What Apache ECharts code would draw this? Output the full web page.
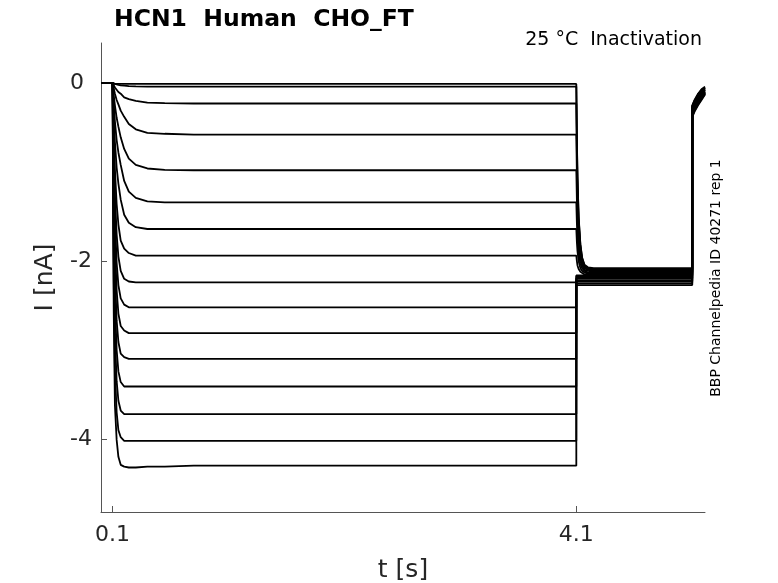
<!DOCTYPE html>
<html>
<head>
<meta charset="utf-8">
<script src="https://cdn.jsdelivr.net/npm/echarts@6/dist/echarts.min.js"></script>
<style>html,body{margin:0;padding:0;background:#fff}#c{width:778px;height:583px}</style>
</head>
<body>
<div id="c"></div>
<script>
// Holding period (s) – all traces at 0 nA
const holdTime = [0, 0.1];
// Activation (prepulse) segment times (s)
const actTime = [0.105, 0.11, 0.12, 0.135, 0.15, 0.17, 0.2, 0.24, 0.3, 0.4, 0.55, 0.8, 1.3, 4.1];
// Currents (nA) during prepulse, one row per trace
const actI = [
  [-0.01,-0.01,-0.01,-0.01,-0.01,-0.01,-0.01,-0.01,-0.01,-0.01,-0.01,-0.01,-0.01,-0.01],
  [-0.003,-0.006,-0.01,-0.015,-0.02,-0.025,-0.03,-0.034,-0.037,-0.04,-0.04,-0.04,-0.04,-0.04],
  [-0.01,-0.02,-0.05,-0.07,-0.10,-0.12,-0.16,-0.18,-0.20,-0.22,-0.225,-0.23,-0.23,-0.23],
  [-0.03,-0.06,-0.12,-0.19,-0.24,-0.31,-0.38,-0.46,-0.52,-0.56,-0.57,-0.58,-0.58,-0.58],
  [-0.07,-0.14,-0.25,-0.39,-0.49,-0.61,-0.74,-0.85,-0.92,-0.96,-0.975,-0.98,-0.98,-0.98],
  [-0.13,-0.24,-0.43,-0.64,-0.78,-0.92,-1.10,-1.22,-1.29,-1.33,-1.34,-1.34,-1.34,-1.34],
  [-0.20,-0.36,-0.66,-0.95,-1.13,-1.31,-1.48,-1.57,-1.62,-1.64,-1.64,-1.64,-1.64,-1.64],
  [-0.29,-0.54,-0.97,-1.36,-1.59,-1.77,-1.86,-1.91,-1.94,-1.94,-1.94,-1.94,-1.94,-1.94],
  [-0.40,-0.74,-1.25,-1.70,-1.95,-2.11,-2.20,-2.23,-2.24,-2.24,-2.24,-2.24,-2.24,-2.24],
  [-0.50,-0.93,-1.51,-2.02,-2.27,-2.42,-2.49,-2.52,-2.52,-2.52,-2.52,-2.52,-2.52,-2.52],
  [-0.62,-1.12,-1.80,-2.33,-2.59,-2.73,-2.78,-2.81,-2.81,-2.81,-2.81,-2.81,-2.81,-2.81],
  [-0.78,-1.36,-2.11,-2.67,-2.91,-3.04,-3.08,-3.10,-3.10,-3.10,-3.10,-3.10,-3.10,-3.10],
  [-0.95,-1.64,-2.46,-3.00,-3.24,-3.36,-3.41,-3.41,-3.41,-3.41,-3.41,-3.41,-3.41,-3.41],
  [-1.12,-1.93,-2.83,-3.35,-3.57,-3.68,-3.72,-3.72,-3.72,-3.72,-3.72,-3.72,-3.72,-3.72],
  [-1.33,-2.25,-3.22,-3.70,-3.90,-3.98,-4.02,-4.02,-4.02,-4.02,-4.02,-4.02,-4.02,-4.02],
  [-1.55,-2.59,-3.62,-4.01,-4.20,-4.29,-4.31,-4.32,-4.32,-4.31,-4.31,-4.30,-4.30,-4.30]
];
// Test pulse segment times (s)
const testTime = [4.1005, 4.105, 4.11, 4.12, 4.135, 4.15, 4.17, 4.2, 4.25, 4.35, 5.1];
const testI = [
  [-0.07,-0.63,-1.05,-1.50,-1.81,-1.96,-2.04,-2.07,-2.08,-2.08,-2.08],
  [-0.10,-0.66,-1.07,-1.52,-1.82,-1.97,-2.05,-2.08,-2.09,-2.09,-2.09],
  [-0.29,-0.79,-1.17,-1.58,-1.86,-1.99,-2.06,-2.09,-2.10,-2.10,-2.10],
  [-0.63,-1.04,-1.35,-1.68,-1.91,-2.02,-2.08,-2.10,-2.11,-2.11,-2.11],
  [-1.01,-1.32,-1.55,-1.80,-1.97,-2.05,-2.10,-2.11,-2.12,-2.12,-2.12],
  [-1.36,-1.58,-1.74,-1.91,-2.03,-2.08,-2.11,-2.13,-2.13,-2.13,-2.13],
  [-1.66,-1.79,-1.89,-2.00,-2.08,-2.11,-2.13,-2.14,-2.14,-2.14,-2.14],
  [-1.95,-2.00,-2.05,-2.09,-2.12,-2.14,-2.15,-2.15,-2.15,-2.15,-2.15],
  [-2.16,-2.16,-2.16,-2.16,-2.16,-2.16,-2.16,-2.16,-2.16,-2.16,-2.16],
  [-2.17,-2.17,-2.17,-2.17,-2.17,-2.17,-2.17,-2.17,-2.17,-2.17,-2.17],
  [-2.19,-2.19,-2.19,-2.19,-2.19,-2.19,-2.19,-2.19,-2.19,-2.19,-2.19],
  [-2.20,-2.20,-2.20,-2.20,-2.20,-2.20,-2.20,-2.20,-2.20,-2.20,-2.20],
  [-2.22,-2.22,-2.22,-2.22,-2.22,-2.22,-2.22,-2.22,-2.22,-2.22,-2.22],
  [-2.23,-2.23,-2.23,-2.23,-2.23,-2.23,-2.23,-2.23,-2.23,-2.23,-2.23],
  [-2.25,-2.25,-2.25,-2.25,-2.25,-2.25,-2.25,-2.25,-2.25,-2.25,-2.25],
  [-2.27,-2.27,-2.27,-2.27,-2.27,-2.27,-2.27,-2.27,-2.27,-2.27,-2.27]
];
// Tail segment times (s)
const tailTime = [5.1005, 5.12, 5.15, 5.18, 5.21];
const tailI = [
  [-0.25,-0.19,-0.12,-0.07,-0.04],
  [-0.26,-0.20,-0.13,-0.08,-0.05],
  [-0.26,-0.20,-0.13,-0.08,-0.05],
  [-0.27,-0.21,-0.14,-0.09,-0.06],
  [-0.28,-0.22,-0.15,-0.10,-0.06],
  [-0.29,-0.23,-0.16,-0.11,-0.07],
  [-0.30,-0.24,-0.17,-0.12,-0.08],
  [-0.31,-0.25,-0.18,-0.12,-0.08],
  [-0.32,-0.26,-0.19,-0.13,-0.09],
  [-0.33,-0.27,-0.20,-0.14,-0.10],
  [-0.34,-0.28,-0.21,-0.15,-0.10],
  [-0.35,-0.29,-0.22,-0.16,-0.11],
  [-0.36,-0.30,-0.23,-0.17,-0.11],
  [-0.36,-0.30,-0.23,-0.17,-0.12],
  [-0.37,-0.31,-0.24,-0.18,-0.12],
  [-0.38,-0.32,-0.25,-0.19,-0.13]
];
const xTicks = [0.1, 4.1];
const yTicks = [-4, -2, 0];

const FONT = 'DejaVu Sans';
const series = actI.map((row, i) => {
  const data = [];
  holdTime.forEach(t => data.push([t, 0]));
  actTime.forEach((t, j) => data.push([t, row[j]]));
  testTime.forEach((t, j) => data.push([t, testI[i][j]]));
  tailTime.forEach((t, j) => data.push([t, tailI[i][j]]));
  return {
    type: 'line', data, showSymbol: false, symbol: 'none',
    lineStyle: { color: '#000', width: 1.8 }, silent: true, animation: false
  };
});

const chart = echarts.init(document.getElementById('c'), null, { renderer: 'canvas' });
chart.setOption({
  animation: false,
  backgroundColor: '#fff',
  grid: { left: 101, top: 43, width: 604, height: 469, containLabel: false, outerBoundsMode: 'none' },
  xAxis: {
    type: 'value', min: 0, max: 5.21,
    axisLine: { show: true, onZero: false, lineStyle: { color: '#555', width: 1 } },
    axisTick: { show: true, inside: true, length: 6, customValues: xTicks, lineStyle: { color: '#555' } },
    axisLabel: { customValues: xTicks, fontFamily: FONT, fontSize: 22, color: '#262626', margin: 12 },
    splitLine: { show: false },
    name: 't [s]', nameLocation: 'middle', nameGap: 46,
    nameTextStyle: { fontFamily: FONT, fontSize: 25, color: '#262626' }
  },
  yAxis: {
    type: 'value', min: -4.82, max: 0.45,
    axisLine: { show: true, onZero: false, lineStyle: { color: '#555', width: 1 } },
    axisTick: { show: true, inside: true, length: 6, customValues: yTicks, lineStyle: { color: '#555' } },
    axisLabel: { customValues: yTicks, fontFamily: FONT, fontSize: 22, color: '#262626', margin: 31, align: 'left' },
    splitLine: { show: false },
    name: 'I [nA]', nameLocation: 'middle', nameGap: 43,
    nameTextStyle: { fontFamily: FONT, fontSize: 25, color: '#262626' }
  },
  graphic: [
    { type: 'text', left: 114, top: 8,
      style: { text: 'HCN1  Human  CHO_FT', font: 'bold 23.5px "DejaVu Sans"', fill: '#000' } },
    { type: 'text', right: 76, top: 31,
      style: { text: '25 °C  Inactivation', font: '19px "DejaVu Sans"', fill: '#000' } },
    { type: 'text', x: 716, y: 278, rotation: Math.PI / 2,
      style: { text: 'BBP Channelpedia ID 40271 rep 1', font: '14px "DejaVu Sans"', fill: '#000',
               align: 'center', verticalAlign: 'middle' } }
  ],
  series
});
</script>
</body>
</html>
